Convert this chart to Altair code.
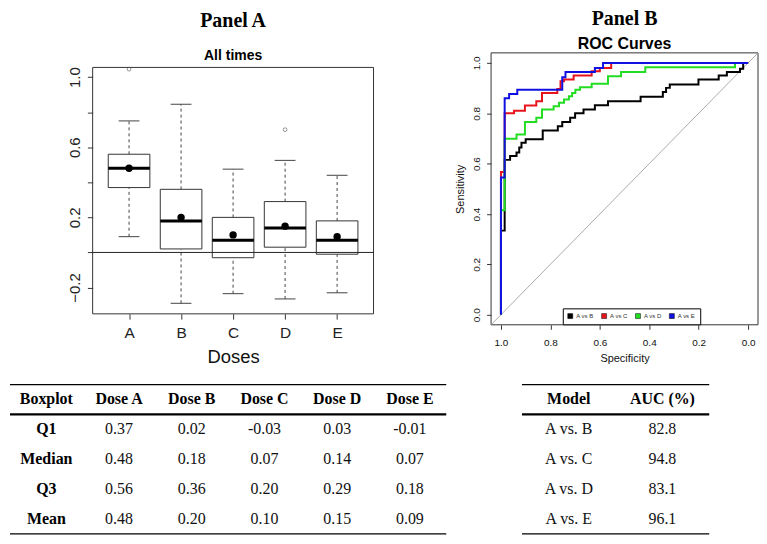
import altair as alt
import pandas as pd

# ---------------- Panel A : box plot of the five doses ----------------
doses = ["A", "B", "C", "D", "E"]
q1 = [0.37, 0.02, -0.03, 0.03, -0.01]
medians = [0.48, 0.18, 0.07, 0.14, 0.07]
q3 = [0.56, 0.36, 0.20, 0.29, 0.18]
means = [0.48, 0.20, 0.10, 0.15, 0.09]
whisker_low = [0.09, -0.29, -0.235, -0.265, -0.23]
whisker_high = [0.75, 0.845, 0.475, 0.525, 0.44]
outlier_doses = ["A", "D"]
outlier_values = [1.045, 0.70]
a_ticks = [-0.2, 0.0, 0.2, 0.4, 0.6, 0.8, 1.0]
a_labelled = [-0.2, 0.2, 0.6, 1.0]
a_xlim = [0.3, 5.7]             # R user coordinates of the box-plot frame (x)
a_ylim = [-0.35, 1.055]         # R user coordinates of the box-plot frame (y)
a_xdomain = [-1.289, 7.098]     # whole cell width, shared with the table below
a_ydomain = [-0.35, 1.138]      # frame plus the strip that holds the title

# ---------------- Panel B : ROC curves ----------------
models = ["A vs B", "A vs C", "A vs D", "A vs E"]
spec_ab = [1.0, 0.985, 0.963, 0.937, 0.926, 0.917, 0.90, 0.831, 0.77, 0.752, 0.72, 0.70,
           0.666, 0.62, 0.567, 0.435, 0.345, 0.332, 0.317, 0.201, 0.119, 0.086, 0.033, 0.02, 0.0]
sens_ab = [0.0, 0.334, 0.615, 0.63, 0.644, 0.664, 0.683, 0.697, 0.732, 0.749, 0.765, 0.782,
           0.80, 0.815, 0.832, 0.848, 0.866, 0.885, 0.901, 0.914, 0.934, 0.95, 0.964, 0.977, 1.0]
spec_ac = [1.0, 0.985, 0.947, 0.903, 0.857, 0.834, 0.772, 0.759, 0.745, 0.706, 0.633, 0.60, 0.554, 0.0]
sens_ac = [0.0, 0.567, 0.80, 0.81, 0.831, 0.848, 0.881, 0.897, 0.927, 0.934, 0.95, 0.967, 0.98, 1.0]
spec_ad = [1.0, 0.985, 0.937, 0.903, 0.857, 0.834, 0.787, 0.765, 0.745, 0.725, 0.712, 0.699,
           0.68, 0.633, 0.567, 0.514, 0.416, 0.053, 0.0]
sens_ad = [0.0, 0.415, 0.699, 0.716, 0.765, 0.782, 0.815, 0.828, 0.842, 0.855, 0.868, 0.881,
           0.894, 0.903, 0.917, 0.947, 0.964, 0.983, 1.0]
spec_ae = [1.0, 0.985, 0.967, 0.934, 0.752, 0.739, 0.62, 0.587, 0.0]
sens_ae = [0.0, 0.545, 0.86, 0.877, 0.894, 0.943, 0.964, 0.98, 1.0]
roc_colors = ["#000000", "#e8141c", "#22dd22", "#1010e0"]
b_ticks = [0.0, 0.2, 0.4, 0.6, 0.8, 1.0]
b_lim = [-0.04, 1.04]

# ---------------- tables ----------------
t1_header = ["Boxplot", "Dose A", "Dose B", "Dose C", "Dose D", "Dose E"]
t1_rows = ["Q1", "Median", "Q3", "Mean"]
t2_header = ["Model", "AUC (%)"]
t2_models = ["A vs. B", "A vs. C", "A vs. D", "A vs. E"]
auc = [82.8, 94.8, 83.1, 96.1]
t1_xdomain = [-0.5, 5.5]
t2_xdomain = [-0.83, 2.021]

SANS = "Liberation Sans"
SERIF = "Liberation Serif"

# ======================= Panel A =======================
box_df = pd.DataFrame({"pos": list(range(1, len(doses) + 1)), "dose": doses, "q1": q1,
                       "median": medians, "q3": q3, "mean": means,
                       "lo": whisker_low, "hi": whisker_high})
out_df = pd.DataFrame({"pos": [doses.index(d) + 1 for d in outlier_doses], "value": outlier_values})
frame_a_df = pd.DataFrame({"x": [a_xlim[0]], "x2": [a_xlim[1]], "y": [a_ylim[0]], "y2": [a_ylim[1]]})
zero_df = pd.DataFrame({"x": [a_xlim[0]], "x2": [a_xlim[1]], "y": [0.0]})

label_test = " || ".join(f"abs(datum.value - ({v})) < 1e-6" for v in a_labelled)
dose_js = "[" + ",".join(f"'{d}'" for d in doses) + "]"
ya_axis = alt.Axis(values=a_ticks, labelExpr=f"({label_test}) ? format(datum.value, '.1f') : ''",
                   labelAngle=270, labelAlign="center", labelBaseline="alphabetic",
                   labelPadding=8, tickSize=5.3, tickColor="#333", labelFontSize=15,
                   labelFont=SANS, labelColor="#222", domain=False, grid=False, title=None,
                   labelFlush=False, labelOverlap=False, offset=-83)
xa_axis = alt.Axis(values=list(range(1, len(doses) + 1)), labelExpr=f"{dose_js}[datum.value - 1]",
                   title="Doses", titleFont=SANS, titleFontSize=18.5, titleFontWeight="normal",
                   titleColor="#111", titlePadding=7, titleX=224, labelAngle=0, labelFontSize=15.5,
                   labelFont=SANS, labelColor="#222", labelPadding=6, tickSize=5.3,
                   tickColor="#333", domain=False, grid=False, labelFlush=False)
xa_scale = alt.Scale(domain=a_xdomain, nice=False, zero=False)
ya_scale = alt.Scale(domain=a_ydomain, nice=False, zero=False)


def xa(field="pos:Q"):
    return alt.X(field, scale=xa_scale, axis=xa_axis)


def ya(field):
    return alt.Y(field, scale=ya_scale, axis=ya_axis)


boxbase = alt.Chart(box_df).transform_calculate(
    bl="datum.pos - 0.4", br="datum.pos + 0.4", cl="datum.pos - 0.2", cr="datum.pos + 0.2")

frame_a = alt.Chart(frame_a_df).mark_rect(filled=False, stroke="#333", strokeWidth=1).encode(
    x=xa("x:Q"), x2="x2:Q", y=ya("y:Q"), y2="y2:Q")
whisk_up = boxbase.mark_rule(strokeDash=[3, 3], color="#444", strokeWidth=1).encode(
    x=xa(), y=ya("q3:Q"), y2="hi:Q")
whisk_lo = boxbase.mark_rule(strokeDash=[3, 3], color="#444", strokeWidth=1).encode(
    x=xa(), y=ya("lo:Q"), y2="q1:Q")
cap_hi = boxbase.mark_rule(color="#444", strokeWidth=1).encode(x=xa("cl:Q"), x2="cr:Q", y=ya("hi:Q"))
cap_lo = boxbase.mark_rule(color="#444", strokeWidth=1).encode(x=xa("cl:Q"), x2="cr:Q", y=ya("lo:Q"))
boxes = boxbase.mark_rect(fill="white", stroke="#333", strokeWidth=1).encode(
    x=xa("bl:Q"), x2="br:Q", y=ya("q1:Q"), y2="q3:Q")
med = boxbase.mark_rule(color="black", strokeWidth=3).encode(x=xa("bl:Q"), x2="br:Q", y=ya("median:Q"))
zero = alt.Chart(zero_df).mark_rule(color="#222", strokeWidth=1).encode(
    x=xa("x:Q"), x2="x2:Q", y=ya("y:Q"))
mean_pts = boxbase.mark_point(filled=True, size=55, color="black", opacity=1).encode(
    x=xa(), y=ya("mean:Q"))
outs = alt.Chart(out_df).mark_point(filled=False, size=14, color="#444", strokeWidth=0.8).encode(
    x=xa(), y=ya("value:Q"))

panel_a = alt.layer(frame_a, whisk_up, whisk_lo, cap_hi, cap_lo, boxes, med, zero, mean_pts, outs).properties(
    width=438, height=262,
    title=alt.TitleParams(text="Panel A", subtitle="All times", anchor="middle", frame="group", dx=5,
                          font=SERIF, fontSize=20, fontWeight="bold", color="black",
                          subtitleFont=SANS, subtitleFontSize=14, subtitleFontWeight="bold",
                          subtitleColor="black", subtitlePadding=18, offset=-10))

# ======================= Panel B =======================
roc_rows = []
for m, sp, se in zip(models, [spec_ab, spec_ac, spec_ad, spec_ae], [sens_ab, sens_ac, sens_ad, sens_ae]):
    for i, (a, b) in enumerate(zip(sp, se)):
        roc_rows.append({"model": m, "idx": i, "spec": a, "sens": b})
roc_df = pd.DataFrame(roc_rows)
diag_df = pd.DataFrame({"spec": [b_lim[1], b_lim[0]], "sens": [1 - b_lim[1], 1 - b_lim[0]]})
frame_b_df = pd.DataFrame({"x": [b_lim[0]], "x2": [b_lim[1]], "y": [b_lim[0]], "y2": [b_lim[1]]})

xb_scale = alt.Scale(domain=b_lim, reverse=True, nice=False, zero=False)
yb_scale = alt.Scale(domain=b_lim, nice=False, zero=False)
xb_axis = alt.Axis(values=b_ticks, format=".1f", tickSize=4.5, tickColor="#333", labelFontSize=10,
                   labelFont=SANS, labelColor="#111", labelPadding=8, labelFlush=False,
                   title="Specificity", titleFont=SANS, titleFontSize=11, titleFontWeight="normal",
                   titleColor="#111", titlePadding=5, domain=False, grid=False)
yb_axis = alt.Axis(values=b_ticks, format=".1f", tickSize=4.5, tickColor="#333", labelFontSize=10,
                   labelFont=SANS, labelColor="#111", labelAngle=270, labelAlign="center",
                   labelBaseline="alphabetic", labelPadding=7.5, labelFlush=False,
                   title="Sensitivity", titleFont=SANS, titleFontSize=11, titleFontWeight="normal",
                   titleColor="#111", titlePadding=6, domain=False, grid=False)


def xb(field="spec:Q"):
    return alt.X(field, scale=xb_scale, axis=xb_axis)


def yb(field="sens:Q"):
    return alt.Y(field, scale=yb_scale, axis=yb_axis)


color_scale = alt.Scale(domain=models, range=roc_colors)
frame_b = alt.Chart(frame_b_df).mark_rect(filled=False, stroke="#333", strokeWidth=1).encode(
    x=xb("x:Q"), x2="x2:Q", y=yb("y:Q"), y2="y2:Q")
diag = alt.Chart(diag_df).mark_line(color="#aaaaaa", strokeWidth=1, clip=True).encode(x=xb(), y=yb())
curves = alt.Chart(roc_df).mark_line(interpolate="step-before", strokeWidth=2).encode(
    x=xb(), y=yb(), order="idx:Q",
    color=alt.Color("model:N", scale=color_scale, legend=None))
legend_layer = alt.Chart(roc_df).mark_square(filled=True, size=25, opacity=1).encode(
    x=xb(), y=yb(),
    color=alt.Color("model:N", scale=color_scale,
                    legend=alt.Legend(orient="none", legendX=72, legendY=256.5,
                                      direction="horizontal", columns=4, title=None,
                                      symbolType="square", symbolSize=25,
                                      symbolStrokeColor="black", symbolStrokeWidth=0.5,
                                      labelFont=SANS, labelFontSize=6, labelColor="#333",
                                      labelOffset=3, columnPadding=6, padding=4.5,
                                      strokeColor="black", fillColor="white"))
).transform_filter("false")

panel_b = alt.layer(frame_b, diag, curves, legend_layer).resolve_scale(color="independent").properties(
    width=268, height=273,
    title=alt.TitleParams(text="Panel B", subtitle="ROC Curves", anchor="middle", frame="group",
                          font=SERIF, fontSize=20, fontWeight="bold", color="black",
                          subtitleFont=SANS, subtitleFontSize=16, subtitleFontWeight="bold",
                          subtitleColor="black", subtitlePadding=7.3, offset=0))

# ======================= Tables =======================
t1 = []
for c, h in enumerate(t1_header):
    t1.append({"row": 0, "col": c, "text": h, "kind": "bold"})
for r, (name, vals) in enumerate(zip(t1_rows, [q1, medians, q3, means]), start=1):
    t1.append({"row": r, "col": 0, "text": name, "kind": "bold"})
    for c, v in enumerate(vals, start=1):
        t1.append({"row": r, "col": c, "text": f"{v:.2f}", "kind": "plain"})
t1_df = pd.DataFrame(t1)

t2 = []
for c, h in enumerate(t2_header):
    t2.append({"row": 0, "col": c, "text": h, "kind": "bold"})
for r, (name, v) in enumerate(zip(t2_models, auc), start=1):
    t2.append({"row": r, "col": 0, "text": name, "kind": "plain"})
    t2.append({"row": r, "col": 1, "text": f"{v:.1f}", "kind": "plain"})
t2_df = pd.DataFrame(t2)

ty_scale = alt.Scale(domain=[-0.5, 4.5], reverse=True, nice=False, zero=False)


def make_table(df, ncols, xdomain, width):
    xs = alt.Scale(domain=xdomain, nice=False, zero=False)
    x = alt.X("col:Q", scale=xs, axis=None)
    y = alt.Y("row:Q", scale=ty_scale, axis=None)
    outer = pd.DataFrame({"x": [-0.5, -0.5], "x2": [ncols - 0.5, ncols - 0.5], "y": [-0.5, 4.5]})
    head = pd.DataFrame({"x": [-0.5], "x2": [ncols - 0.5], "y": [0.5]})
    bold = alt.Chart(df).transform_filter("datum.kind == 'bold'").mark_text(
        font=SERIF, fontSize=16, fontWeight="bold", color="black", baseline="middle").encode(
        x=x, y=y, text="text:N")
    plain = alt.Chart(df).transform_filter("datum.kind == 'plain'").mark_text(
        font=SERIF, fontSize=16, color="#111", baseline="middle").encode(x=x, y=y, text="text:N")
    r_out = alt.Chart(outer).mark_rule(color="black", strokeWidth=1.3).encode(
        x=alt.X("x:Q", scale=xs, axis=None), x2="x2:Q", y=alt.Y("y:Q", scale=ty_scale, axis=None))
    r_head = alt.Chart(head).mark_rule(color="black", strokeWidth=2.2).encode(
        x=alt.X("x:Q", scale=xs, axis=None), x2="x2:Q", y=alt.Y("y:Q", scale=ty_scale, axis=None))
    return alt.layer(r_out, r_head, bold, plain).properties(width=width, height=150)


table1 = make_table(t1_df, len(t1_header), t1_xdomain, 438)
table2 = make_table(t2_df, len(t2_header), t2_xdomain, 268)

chart = alt.concat(
    panel_a, panel_b, table1, table2,
    columns=2, spacing={"row": 60, "column": 45}, bounds="flush", align="each",
).properties(padding=0).configure(font=SANS).configure_view(stroke=None)

chart.save("out.html", embed_options={"renderer": "svg", "actions": False})
